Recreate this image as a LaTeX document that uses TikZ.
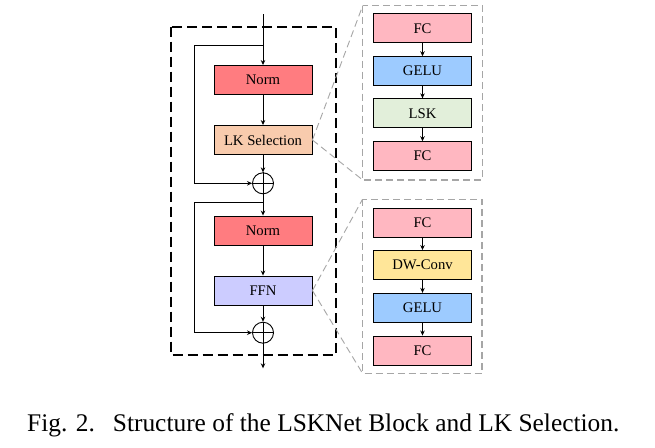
\documentclass[tikz,border=0pt]{standalone}
\usepackage{fontspec}
\setmainfont{Liberation Serif}
\usetikzlibrary{arrows.meta}
\definecolor{normc}{HTML}{FF7C80}
\definecolor{lkc}{HTML}{F8CBAD}
\definecolor{ffnc}{HTML}{CCCCFF}
\definecolor{fcc}{HTML}{FFB7C1}
\definecolor{geluc}{HTML}{9DCBFF}
\definecolor{lskc}{HTML}{E2EFDA}
\definecolor{dwc}{HTML}{FFE699}
\definecolor{zoomgray}{HTML}{A6A6A6}
\begin{document}
\begin{tikzpicture}[x=1pt,y=-1pt,
  blk/.style={draw=black,line width=0.9pt,minimum width=98pt,minimum height=29pt,inner sep=0pt,font=\fontsize{14.7}{16}\selectfont},
  arr/.style={-{Stealth[length=5pt,width=4.5pt]},line width=0.9pt},
  ln/.style={line width=0.9pt},
  plus/.style={draw=black,line width=0.9pt,circle,minimum size=21pt,inner sep=0pt},
  mainbox/.style={draw=black,line width=1.8pt,dash pattern=on 10pt off 5pt},
  zoombox/.style={draw=zoomgray,line width=1.1pt,dash pattern=on 7pt off 4pt},
  zoomline/.style={draw=zoomgray,line width=0.9pt,dash pattern=on 7pt off 4pt},
  captxt/.style={font=\fontsize{25.4}{28}\selectfont,inner sep=0pt,anchor=base west}]
\useasboundingbox (0,0) rectangle (655,447);
\fill[white] (0,0) rectangle (655,447);

% main dashed box
\draw[mainbox] (171,26.7) rectangle (335.7,355);

% main column
\coordinate (in) at (263,14);
\coordinate (b1) at (263,45);
\coordinate (s1t) at (194.3,45);
\coordinate (s1b) at (194.3,183.3);
\node[blk,fill=normc] (norm1) at (263,80) {Norm};
\node[blk,fill=lkc] (lk) at (263,140) {LK Selection};
\node[plus] (p1) at (263,183.3) {};
\coordinate (b2) at (263,202.7);
\coordinate (s2t) at (194.3,202.7);
\coordinate (s2b) at (194.3,332.7);
\node[blk,fill=normc] (norm2) at (263,230.5) {Norm};
\node[blk,fill=ffnc] (ffn) at (263,290.5) {FFN};
\node[plus] (p2) at (263,332.7) {};
\coordinate (out) at (263,368.3);

\draw[ln] (p1.north) -- (p1.south) (p1.west) -- (p1.east);
\draw[ln] (p2.north) -- (p2.south) (p2.west) -- (p2.east);

\draw[arr] (in) -- (norm1.north);
\draw[arr] (b1) -- (s1t) -- (s1b) -- (p1.west);
\draw[arr] (norm1) -- (lk);
\draw[arr] (lk) -- (p1.north);
\draw[arr] (p1.south) -- (norm2.north);
\draw[arr] (b2) -- (s2t) -- (s2b) -- (p2.west);
\draw[arr] (norm2) -- (ffn);
\draw[arr] (ffn) -- (p2.north);
\draw[arr] (p2.south) -- (out);

% right panel 1
\coordinate (z1a) at (362.7,5.7);
\coordinate (z1b) at (482.3,180);
\coordinate (z1c) at (362.7,180);
\draw[zoombox] (z1a) rectangle (z1b);
\node[blk,fill=fcc] (fc1) at (422.5,28.3) {FC};
\node[blk,fill=geluc] (gelu1) at (422.5,71.2) {GELU};
\node[blk,fill=lskc] (lsk) at (422.5,113.3) {LSK};
\node[blk,fill=fcc] (fc2) at (422.5,156.2) {FC};
\draw[arr] (fc1) -- (gelu1);
\draw[arr] (gelu1) -- (lsk);
\draw[arr] (lsk) -- (fc2);
\draw[zoomline] (lk.east) -- (z1a);
\draw[zoomline] (lk.east) -- (z1c);

% right panel 2
\coordinate (z2a) at (362.5,199.3);
\coordinate (z2b) at (482,373.3);
\coordinate (z2c) at (362.5,373.3);
\draw[zoombox] (z2a) rectangle (z2b);
\node[blk,fill=fcc] (fc3) at (422.5,222.5) {FC};
\node[blk,fill=dwc] (dw) at (422.5,265) {DW-Conv};
\node[blk,fill=geluc] (gelu2) at (422.5,307.8) {GELU};
\node[blk,fill=fcc] (fc4) at (422.5,350.5) {FC};
\draw[arr] (fc3) -- (dw);
\draw[arr] (dw) -- (gelu2);
\draw[arr] (gelu2) -- (fc4);
\draw[zoomline] (ffn.east) -- (z2a);
\draw[zoomline] (ffn.east) -- (z2c);

% caption
\node[captxt] (capfig) at (27,431) {Fig. 2.};
\node[captxt] (captext) at (112.7,431) {Structure of the LSKNet Block and LK Selection.};
\end{tikzpicture}
\end{document}
